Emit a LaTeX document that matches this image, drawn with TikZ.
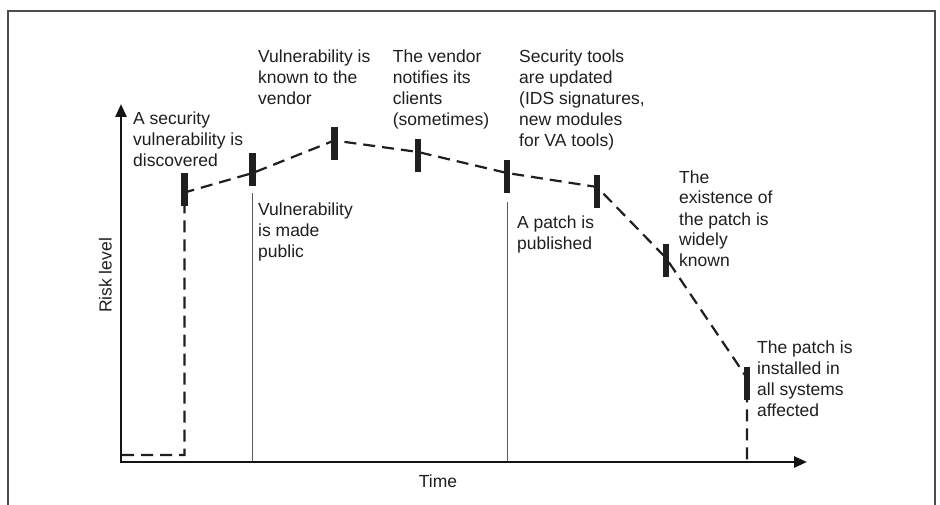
\documentclass[tikz,border=0pt]{standalone}
\usepackage{fontspec}
\setmainfont{Liberation Sans}
\usetikzlibrary{arrows.meta}
\begin{document}
\begin{tikzpicture}[x=1pt,y=-1pt,
  lbl/.style={anchor=base west, align=left, inner sep=0pt, font=\fontsize{17.5}{21}\selectfont, text=black!88},
  marker/.style={rectangle, fill=black!88, draw=none, minimum width=6.5pt, minimum height=33pt, inner sep=0pt},
  risk/.style={dash pattern=on 12pt off 7pt, line width=2.2pt, draw=black!88},
  thinline/.style={line width=0.9pt, draw=black!65},
  axis/.style={line width=2.5pt, draw=black!92, -{Triangle[length=13pt,width=11pt]}},
  frame/.style={line width=1.3pt, draw=black!70}
]
\useasboundingbox (0,0) rectangle (940,505);
\fill[white] (0,0) rectangle (940,505);
% frame (open at the bottom)
\draw[frame] (8,520) -- (8,11) -- (935,11) -- (935,520);

% axes
\coordinate (O) at (121,462);
\coordinate (ytip) at (121,104);
\coordinate (xtip) at (807,462);
\draw[axis] (O) -- (ytip);
\draw[axis] ([xshift=-1.25pt]O) -- (xtip);
\node[anchor=base, inner sep=0pt, font=\fontsize{17.5}{21}\selectfont, text=black!88] (time) at (438,487) {Time};
\node[anchor=base, rotate=90, inner sep=0pt, font=\fontsize{17.5}{21}\selectfont, text=black!88] (risk) at (111.5,275.5) {Risk level};

% risk curve points
\coordinate (p0) at (122,455);
\coordinate (c1) at (184.5,455);
\coordinate (p1) at (184.5,192.5);
\coordinate (p2) at (252.7,173);
\coordinate (p3) at (334.3,140.5);
\coordinate (p4) at (418,152);
\coordinate (p5) at (507,173);
\coordinate (p6) at (597,187);
\coordinate (p7) at (666,258);
\coordinate (p8) at (747,378);
\coordinate (pe) at (747,461);
\draw[risk] (p0) -- (c1) -- (p1) -- (p2) -- (p3) -- (p4) -- (p5) -- (p6) -- (p7) -- (p8) -- (pe);

% thin vertical lines
\coordinate (t2) at (252.7,193);
\coordinate (b2) at (252.7,461);
\coordinate (t5) at (507,202);
\coordinate (b5) at (507,461);
\draw[thinline] (t2) -- (b2);
\draw[thinline] (t5) -- (b5);

% markers
\node[marker] (m1) at (184.5,189.5) {};
\node[marker] (m2) at (252.7,170) {};
\node[marker] (m3) at (334.3,143.5) {};
\node[marker] (m4) at (418,155.5) {};
\node[marker] (m5) at (507,177) {};
\node[marker] (m6) at (597,191.5) {};
\node[marker] (m7) at (666,260.5) {};
\node[marker] (m8) at (747,383.5) {};

% labels (anchored at the baseline of their last line)
\node[lbl] (l1) at (133,167) {A security\\vulnerability is\\discovered};
\node[lbl] (l2) at (258,105) {Vulnerability is\\known to the\\vendor};
\node[lbl] (l3) at (392.7,126) {The vendor\\notifies its\\clients\\(sometimes)};
\node[lbl] (l4) at (519,147) {Security tools\\are updated\\(IDS signatures,\\new modules\\for VA tools)};
\node[lbl] (l5) at (258,258) {Vulnerability\\is made\\public};
\node[lbl] (l6) at (517,250) {A patch is\\published};
\node[lbl] (l7) at (679,267) {The\\existence of\\the patch is\\widely\\known};
\node[lbl] (l8) at (757,416) {The patch is\\installed in\\all systems\\affected};
\end{tikzpicture}
\end{document}
